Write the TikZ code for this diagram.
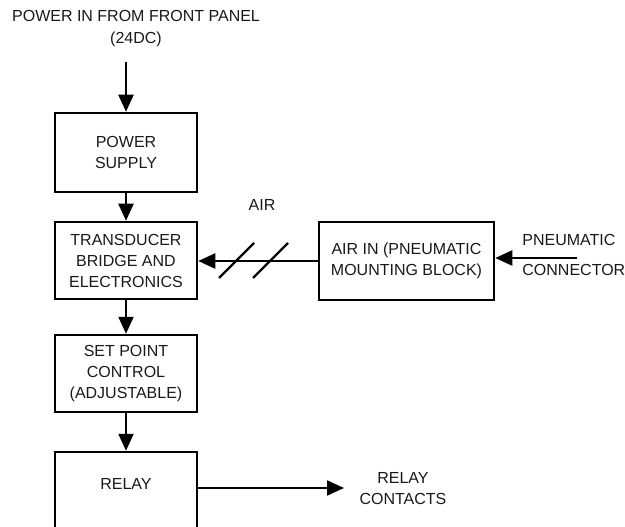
\documentclass[tikz,border=0pt]{standalone}
\usepackage{fontspec}
\setmainfont{Liberation Sans}
\usetikzlibrary{arrows.meta,positioning}

\begin{document}
\begin{tikzpicture}[x=1pt, y=-1pt, line width=2.2pt,
    font=\fontsize{16}{21}\selectfont,
    blk/.style={draw, line width=2.5pt, minimum width=142pt, minimum height=77pt, align=center, text=black!90},
    lbl/.style={align=center, text=black!90},
    flow/.style={-{Triangle[length=17pt,width=15pt]}}]
    \useasboundingbox (0,0) rectangle (625,527);

    % Power input
    \node[lbl] (pwrtxt) at (136,29) {POWER IN FROM FRONT PANEL\\[1pt](24DC)};
    \coordinate (pwrin) at (126,62);

    % Main chain of blocks
    \node[blk, minimum height=79pt] (psu) at (126,152.5) {POWER\\SUPPLY};
    \node[blk] (xdcr) at (126,260.5) {TRANSDUCER\\BRIDGE AND\\ELECTRONICS};
    \node[blk] (setpt) at (126,373.5) {SET POINT\\CONTROL\\(ADJUSTABLE)};
    \node[blk, minimum height=83pt, text depth=20pt] (relay) at (126,493.5) {RELAY};

    % Air supply side
    \node[blk, minimum width=175pt, minimum height=78pt] (airin) at (406.5,261) {AIR IN (PNEUMATIC\\MOUNTING BLOCK)};
    \node[lbl] (airtxt) at (262,205) {AIR};
    \node[lbl, anchor=west, align=left] (pneutxt) at (518,255) {PNEUMATIC\\[9pt]CONNECTOR};
    \coordinate (pneu) at (577,258);

    % Relay output
    \node[lbl] (cntctxt) at (403,489) {RELAY\\CONTACTS};
    \coordinate (cntc) at (344,488);

    % Connectors
    \draw[flow] (pwrin) -- (psu.north);
    \draw[flow] (psu) -- (xdcr);
    \draw[flow] (xdcr) -- (setpt);
    \draw[flow] (setpt) -- (relay);
    \draw[flow] (relay.east |- cntc) -- (cntc);
    \draw[flow] (pneu) -- (pneu -| airin.east);
    \draw[flow] (airin.west) -- (xdcr.east |- airin.west);

    % Pneumatic line marks
    \foreach \sx in {236,270}
        \draw ({\sx-17},278) -- ++(35,-35);
\end{tikzpicture}
\end{document}
